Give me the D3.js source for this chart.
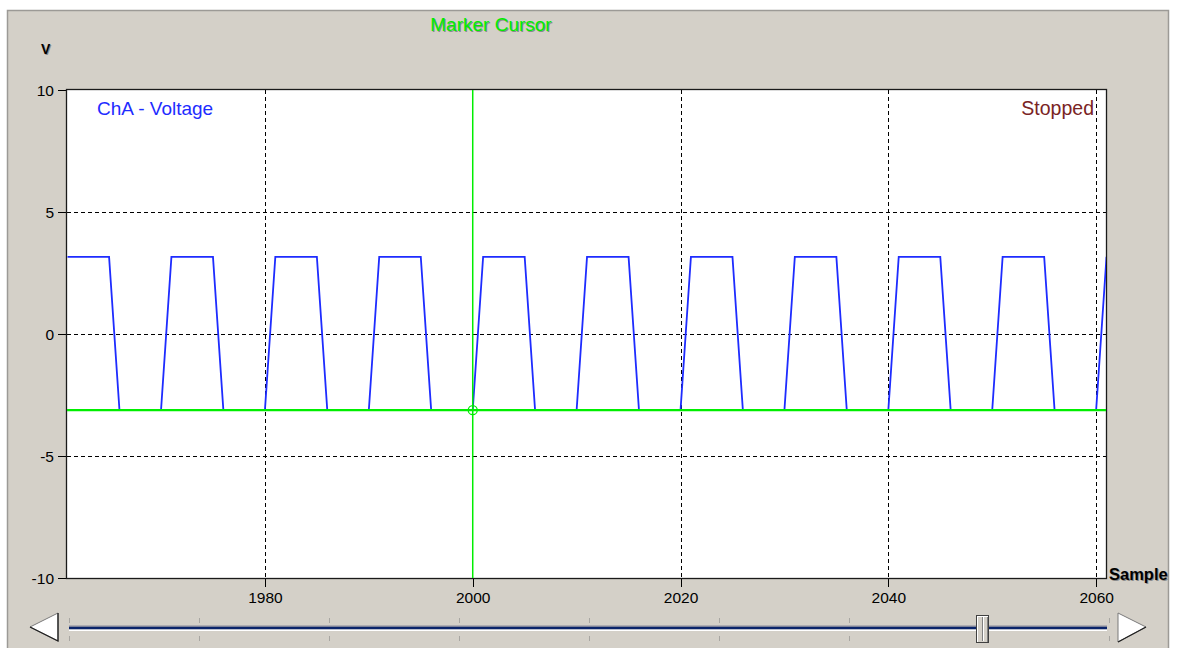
<!DOCTYPE html>
<html>
<head>
<meta charset="utf-8">
<script src="https://cdn.jsdelivr.net/npm/d3@7"></script>
<style>
  html, body { margin: 0; padding: 0; background: #ffffff; }
  svg { display: block; }
  text { font-family: "Liberation Sans", Arial, sans-serif; }
</style>
</head>
<body>
<svg id="chart" width="1178" height="648"></svg>
<script>
// ---------------- data ----------------
const firstSample = 1961;
const voltage = [
  3.16, 3.16, 3.16, 3.16, 3.16, -3.12, -3.12, -3.12, -3.12, -3.12,   // 1961-1970
  3.16, 3.16, 3.16, 3.16, 3.16, -3.12, -3.12, -3.12, -3.12, -3.12,   // 1971-1980
  3.16, 3.16, 3.16, 3.16, 3.16, -3.12, -3.12, -3.12, -3.12, -3.12,   // 1981-1990
  3.16, 3.16, 3.16, 3.16, 3.16, -3.12, -3.12, -3.12, -3.12, -3.12,   // 1991-2000
  3.16, 3.16, 3.16, 3.16, 3.16, -3.12, -3.12, -3.12, -3.12, -3.12,   // 2001-2010
  3.16, 3.16, 3.16, 3.16, 3.16, -3.12, -3.12, -3.12, -3.12, -3.12,   // 2011-2020
  3.16, 3.16, 3.16, 3.16, 3.16, -3.12, -3.12, -3.12, -3.12, -3.12,   // 2021-2030
  3.16, 3.16, 3.16, 3.16, 3.16, -3.12, -3.12, -3.12, -3.12, -3.12,   // 2031-2040
  3.16, 3.16, 3.16, 3.16, 3.16, -3.12, -3.12, -3.12, -3.12, -3.12,   // 2041-2050
  3.16, 3.16, 3.16, 3.16, 3.16, -3.12, -3.12, -3.12, -3.12, -3.12,   // 2051-2060
  3.16                                                                // 2061
];
const xTicks = [1980, 2000, 2020, 2040, 2060];
const yTicks = [-10, -5, 0, 5, 10];
const xDomain = [1960.95, 2060.95];
const yDomain = [-10, 10];
const cursorSample = 2000;
const cursorVolt = -3.12;
const seriesLabel = "ChA - Voltage";
const statusLabel = "Stopped";
const cursorTitle = "Marker Cursor";
const yUnit = "V";
const xUnit = "Sample";
const sliderTickCount = 9;

// ---------------- layout ----------------
const svg = d3.select("#chart");
const plot = { left: 67, right: 1106, top: 90, bottom: 578 };
const PANEL = "#d4d0c8";
const fmt = d => String(d);

const x = d3.scaleLinear().domain(xDomain).range([plot.left, plot.right]);
const y = d3.scaleLinear().domain(yDomain).range([plot.bottom, plot.top]);

// panel
svg.append("rect").attr("x", 0).attr("y", 0).attr("width", 1178).attr("height", 648).attr("fill", "#ffffff");
svg.append("rect").attr("x", 7.5).attr("y", 10.5).attr("width", 1161).attr("height", 645)
  .attr("fill", PANEL).attr("stroke", "#9c9a96").attr("stroke-width", 1.5);

// plot background
svg.append("rect").attr("x", plot.left).attr("y", plot.top)
  .attr("width", plot.right - plot.left).attr("height", plot.bottom - plot.top)
  .attr("fill", "#ffffff");

const defs = svg.append("defs");
defs.append("clipPath").attr("id", "clip").append("rect")
  .attr("x", plot.left).attr("y", plot.top)
  .attr("width", plot.right - plot.left).attr("height", plot.bottom - plot.top);

// grid
const grid = svg.append("g").attr("shape-rendering", "crispEdges");
grid.selectAll("line.vg").data(xTicks.filter(d => d !== cursorSample)).join("line")
  .attr("x1", d => Math.round(x(d)) + 0.5).attr("x2", d => Math.round(x(d)) + 0.5)
  .attr("y1", plot.top).attr("y2", plot.bottom)
  .attr("stroke", "#000").attr("stroke-width", 1).attr("stroke-dasharray", "4,3");
grid.selectAll("line.hg").data(yTicks.filter(d => d > yDomain[0] && d < yDomain[1])).join("line")
  .attr("x1", plot.left).attr("x2", plot.right)
  .attr("y1", d => Math.round(y(d)) + 0.5).attr("y2", d => Math.round(y(d)) + 0.5)
  .attr("stroke", "#000").attr("stroke-width", 1).attr("stroke-dasharray", "4,3");

// axes
const yAxis = d3.axisLeft(y).tickValues(yTicks).tickSize(9).tickPadding(4).tickFormat(fmt);
const gy = svg.append("g").attr("transform", `translate(${plot.left},0)`).call(yAxis);
gy.select(".domain").remove();
gy.selectAll("line").attr("stroke", "#000").attr("shape-rendering", "crispEdges");
gy.selectAll("text").attr("font-size", 15.5).attr("fill", "#000").attr("dy", "0.36em");

const xAxis = d3.axisBottom(x).tickValues(xTicks).tickSize(9).tickPadding(5).tickFormat(fmt);
const gx = svg.append("g").attr("transform", `translate(0,${plot.bottom})`).call(xAxis);
gx.select(".domain").remove();
gx.selectAll("line").attr("stroke", "#000").attr("shape-rendering", "crispEdges");
gx.selectAll("text").attr("font-size", 15.5).attr("fill", "#000");

// plot frame
svg.append("rect").attr("x", plot.left - 0.5).attr("y", plot.top - 0.5)
  .attr("width", plot.right - plot.left + 1).attr("height", plot.bottom - plot.top + 1)
  .attr("fill", "none").attr("stroke", "#1a1a1a").attr("stroke-width", 1.3);

// series
const pts = voltage.map((v, i) => [firstSample + i, v]);
const line = d3.line().x(d => x(d[0])).y(d => y(d[1]));
svg.append("path").datum(pts).attr("clip-path", "url(#clip)")
  .attr("d", line).attr("fill", "none")
  .attr("stroke", "#1e2cff").attr("stroke-width", 1.8).attr("stroke-linejoin", "miter");

// cursor
const cur = svg.append("g").attr("clip-path", "url(#clip)");
cur.append("line").attr("x1", x(cursorSample)).attr("x2", x(cursorSample))
  .attr("y1", plot.top).attr("y2", plot.bottom)
  .attr("stroke", "#00ee00").attr("stroke-width", 1.5);
cur.append("line").attr("x1", plot.left).attr("x2", plot.right)
  .attr("y1", y(cursorVolt)).attr("y2", y(cursorVolt))
  .attr("stroke", "#00ee00").attr("stroke-width", 2.2);
cur.append("circle").attr("cx", x(cursorSample)).attr("cy", y(cursorVolt)).attr("r", 4.5)
  .attr("fill", "none").attr("stroke", "#00ee00").attr("stroke-width", 1.3);

// in-plot labels
svg.append("text").attr("x", 97).attr("y", 115).attr("font-size", 19)
  .attr("fill", "#1e2cff").text(seriesLabel);
svg.append("text").attr("x", 1094).attr("y", 115).attr("font-size", 19.5)
  .attr("text-anchor", "end").attr("fill", "#7a2424").text(statusLabel);

// titles with shadow
function shadowText(tx, ty, str, size, weight, color, anchor) {
  svg.append("text").attr("x", tx + 1).attr("y", ty + 1).attr("font-size", size)
    .attr("font-weight", weight).attr("text-anchor", anchor).attr("fill", "#8a8a8a").text(str);
  svg.append("text").attr("x", tx).attr("y", ty).attr("font-size", size)
    .attr("font-weight", weight).attr("text-anchor", anchor).attr("fill", color).text(str);
}
shadowText(491, 31, cursorTitle, 19, "normal", "#00ee00", "middle");
shadowText(41, 54, yUnit, 14, "bold", "#000", "start");
shadowText(1109, 580, xUnit, 16.5, "bold", "#000", "start");

// ---------------- scrollbar ----------------
const sb = svg.append("g");
const trackL = 69, trackR = 1107, trackY = 628;
const tickX = d3.scaleLinear().domain([0, sliderTickCount - 1]).range([trackL, 1109]);
sb.selectAll("line.st").data(d3.range(sliderTickCount)).join("line")
  .attr("x1", d => Math.round(tickX(d)) + 0.5).attr("x2", d => Math.round(tickX(d)) + 0.5)
  .attr("y1", 618).attr("y2", 623).attr("stroke", "#a8a6a2").attr("shape-rendering", "crispEdges");
sb.selectAll("line.sb").data(d3.range(sliderTickCount)).join("line")
  .attr("x1", d => Math.round(tickX(d)) + 0.5).attr("x2", d => Math.round(tickX(d)) + 0.5)
  .attr("y1", 636).attr("y2", 641).attr("stroke", "#a8a6a2").attr("shape-rendering", "crispEdges");
sb.append("rect").attr("x", trackL).attr("y", trackY - 1.5).attr("width", trackR - trackL).attr("height", 3)
  .attr("fill", "#0a246a");
sb.append("rect").attr("x", trackL).attr("y", trackY - 2.5).attr("width", trackR - trackL).attr("height", 1)
  .attr("fill", "#8a8a9a");
sb.append("rect").attr("x", trackL).attr("y", trackY + 1.5).attr("width", trackR - trackL).attr("height", 1.5)
  .attr("fill", "#ffffff");

// arrows
sb.append("path").attr("d", "M58,613 L58,641 L30,627 Z").attr("fill", "#ffffff")
  .attr("stroke", "#7a7a7a").attr("stroke-width", 1);
sb.append("path").attr("d", "M58,613 L58,641 L30,627").attr("fill", "none")
  .attr("stroke", "#202020").attr("stroke-width", 1.3);
sb.append("path").attr("d", "M1118,613 L1118,642 L1146,627 Z").attr("fill", "#ffffff")
  .attr("stroke", "#7a7a7a").attr("stroke-width", 1);
sb.append("path").attr("d", "M1118,642 L1146,627").attr("fill", "none")
  .attr("stroke", "#202020").attr("stroke-width", 1.3);

// thumb
const th = sb.append("g").attr("shape-rendering", "crispEdges");
th.append("rect").attr("x", 976.5).attr("y", 615.5).attr("width", 12).attr("height", 27)
  .attr("fill", PANEL).attr("stroke", "#404040");
th.append("line").attr("x1", 977.5).attr("x2", 977.5).attr("y1", 616).attr("y2", 642).attr("stroke", "#ffffff");
th.append("line").attr("x1", 977).attr("x2", 988).attr("y1", 616.5).attr("y2", 616.5).attr("stroke", "#ffffff");
th.append("line").attr("x1", 987.5).attr("x2", 987.5).attr("y1", 617).attr("y2", 642).attr("stroke", "#808080");
th.append("line").attr("x1", 982.5).attr("x2", 982.5).attr("y1", 617).attr("y2", 641).attr("stroke", "#808080");
th.append("line").attr("x1", 983.5).attr("x2", 983.5).attr("y1", 617).attr("y2", 641).attr("stroke", "#ffffff");
</script>
</body>
</html>
